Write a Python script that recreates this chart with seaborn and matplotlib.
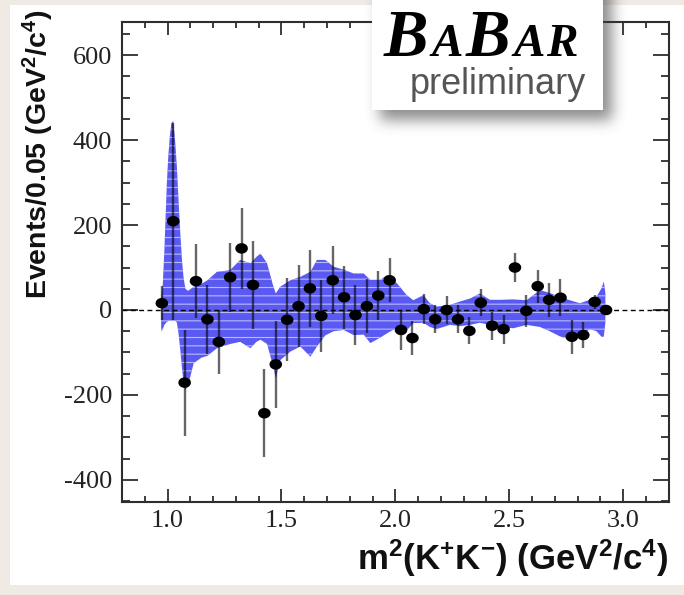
import numpy as np
import pandas as pd
import matplotlib
matplotlib.use("Agg")
import matplotlib.pyplot as plt
from matplotlib.path import Path
from matplotlib.patches import Rectangle
from matplotlib.ticker import MultipleLocator, FixedLocator, FixedFormatter
import seaborn as sns

# ---- measured yields per 0.05 GeV^2/c^4 bin ----
mass_sq = [0.975, 1.025, 1.075, 1.125, 1.175, 1.225, 1.275, 1.325, 1.375, 1.425,
           1.475, 1.525, 1.575, 1.625, 1.675, 1.725, 1.775, 1.825, 1.875, 1.925,
           1.975, 2.025, 2.075, 2.125, 2.175, 2.225, 2.275, 2.325, 2.375, 2.425,
           2.475, 2.525, 2.575, 2.625, 2.675, 2.725, 2.775, 2.825, 2.875, 2.925]
events = [16, 209, -171, 68, -22, -75, 77, 145, 59, -243,
          -128, -23, 9, 51, -14, 70, 30, -12, 9, 34,
          70, -47, -66, 2, -22, 0, -22, -49, 17, -37,
          -45, 100, -2, 56, 24, 29, -63, -59, 19, 0]
event_err = [40, 232, 125, 88, 82, 76, 81, 95, 103, 104,
             103, 98, 96, 90, 85, 80, 74, 70, 63, 57,
             52, 46, 40, 35, 33, 32, 33, 32, 32, 33,
             34, 35, 37, 39, 40, 43, 40, 30, 16, 8]

# ---- model uncertainty band ----
band_x = [0.972, 0.979, 0.986, 0.997, 1.003, 1.010, 1.017, 1.025, 1.033, 1.041,
          1.048, 1.056, 1.063, 1.070, 1.078, 1.090, 1.115, 1.150, 1.175, 1.217,
          1.250, 1.275, 1.319, 1.364, 1.390, 1.408, 1.437, 1.462, 1.475, 1.495,
          1.539, 1.583, 1.627, 1.656, 1.692, 1.729, 1.773, 1.817, 1.861, 1.890,
          1.934, 1.963, 2.007, 2.050, 2.079, 2.123, 2.152, 2.181, 2.240, 2.284,
          2.328, 2.371, 2.415, 2.459, 2.518, 2.576, 2.635, 2.678, 2.722, 2.766,
          2.810, 2.854, 2.883, 2.905, 2.915, 2.922]
band_hi = [30, 60, 140, 300, 360, 410, 440, 445, 400, 337,
           260, 180, 120, 78, 50, 45, 55, 62, 70, 90,
           92, 94, 118, 110, 125, 133, 110, 60, 39, 55,
           70, 78, 90, 118, 118, 102, 95, 86, 86, 71,
           71, 82, 63, 35, 23, 35, 16, 8, 12, 20,
           27, 39, 24, 24, 25, 23, 47, 40, 31, 23,
           16, 24, 31, 51, 67, 40]
band_lo = [-50, -45, -35, -28, -26, -25, -25, -25, -25, -30,
           -55, -95, -135, -170, -188, -178, -125, -112, -108, -90,
           -84, -80, -75, -90, -75, -70, -80, -130, -160, -118,
           -98, -86, -110, -86, -60, -50, -47, -59, -58, -78,
           -65, -55, -42, -48, -31, -30, -40, -45, -35, -38,
           -35, -30, -35, -40, -43, -35, -40, -50, -62, -70,
           -62, -45, -50, -63, -63, -30]

x_ticks = [1.0, 1.5, 2.0, 2.5, 3.0]
x_tick_labels = ["1.0", "1.5", "2.0", "2.5", "3.0"]
y_ticks = [-400, -200, 0, 200, 400, 600]
y_tick_labels = ["-400", "-200", "0", "200", "400", "600"]

df = pd.DataFrame({"m2": mass_sq, "events": events, "err": event_err})

sns.set_theme(style="ticks")
plt.rcParams.update({
    "font.family": ["Liberation Sans", "DejaVu Sans"],
    "mathtext.fontset": "custom",
    "mathtext.rm": "Liberation Sans:bold",
    "mathtext.it": "Liberation Sans:bold:italic",
    "mathtext.bf": "Liberation Sans:bold",
    "hatch.linewidth": 0.8,
})

W, H = 684, 595
fig = plt.figure(figsize=(W / 100, H / 100), dpi=100)
fig.patch.set_facecolor("#efebe4")

# white page behind the plot
fig.patches.append(Rectangle((10 / W, 10 / H), 674 / W, 580 / H,
                             transform=fig.transFigure, facecolor="white",
                             edgecolor="none", zorder=0))

ax = fig.add_axes([122 / W, 93 / H, 546.7 / W, 480 / H])
ax.set_zorder(1)
ax.set_facecolor("white")

# uncertainty band with a light horizontal line texture
ax.fill_between(band_x, band_lo, band_hi, facecolor="#5a5af2",
                edgecolor="#b9b9ff", hatch="--", linewidth=0, zorder=1)

ax.axhline(0, color="black", lw=1.0, ls=(0, (3.5, 2.5)), zorder=2)

ax.errorbar(df["m2"], df["events"], yerr=df["err"], fmt="none",
            ecolor="black", alpha=0.6, elinewidth=1.7, capsize=0, zorder=3)

# slightly wide elliptical dots
t = np.linspace(0, 2 * np.pi, 60)
dot = Path(np.column_stack([1.2 * np.cos(t), np.sin(t)]), closed=True)
sns.scatterplot(data=df, x="m2", y="events", marker=dot, s=82, color="black",
                edgecolor="none", linewidth=0, ax=ax, zorder=4, legend=False)

ax.set_xlim(0.8, 3.2)
ax.set_ylim(-452, 678)

ax.xaxis.set_major_locator(FixedLocator(x_ticks))
ax.xaxis.set_major_formatter(FixedFormatter(x_tick_labels))
ax.yaxis.set_major_locator(FixedLocator(y_ticks))
ax.yaxis.set_major_formatter(FixedFormatter(y_tick_labels))
ax.xaxis.set_minor_locator(MultipleLocator(0.1))
ax.yaxis.set_minor_locator(MultipleLocator(50))

frame_col = "#2e2e2e"
for sp in ax.spines.values():
    sp.set_linewidth(1.5)
    sp.set_color(frame_col)
ax.tick_params(which="both", direction="in", top=True, right=True,
               color=frame_col, width=1.3)
ax.tick_params(axis="x", which="major", length=9.5, pad=6)
ax.tick_params(axis="x", which="minor", length=4.6)
ax.tick_params(axis="y", which="major", length=11.5, pad=7)
ax.tick_params(axis="y", which="minor", length=5.8)
for lab in ax.get_xticklabels() + ax.get_yticklabels():
    lab.set_fontfamily("Liberation Serif")
    lab.set_fontsize(19)
    lab.set_color("#222222")

ax.set_xlabel(r"m$^{2}$(K$^{+}$K$^{-}$) (GeV$^{2}$/c$^{4}$)", loc="right",
              fontsize=25, fontweight="bold", color="#111111")
ax.xaxis.set_label_coords(1.0, -0.073)
ax.set_ylabel(r"Events/0.05 (GeV$^{2}$/c$^{4}$)", loc="top",
              fontsize=20.5, fontweight="bold", color="#111111")
ax.yaxis.set_label_coords(-0.12, 1.025)

# ---- experiment badge with a soft drop shadow ----
def gauss_blur(img, sigma):
    r = int(3 * sigma)
    k = np.exp(-0.5 * (np.arange(-r, r + 1) / sigma) ** 2)
    k /= k.sum()
    img = np.apply_along_axis(lambda v: np.convolve(v, k, mode="same"), 1, img)
    img = np.apply_along_axis(lambda v: np.convolve(v, k, mode="same"), 0, img)
    return img

pad = 40
mask = np.zeros((H + pad, W))
mask[: pad + 120, 380:612] = 1.0
shadow = gauss_blur(mask, 7)[pad:, :]
rgba = np.zeros((H, W, 4))
rgba[..., :3] = 0.25
rgba[..., 3] = 0.6 * shadow
fig.figimage(rgba, 0, 0, origin="upper", zorder=5)

fig.patches.append(Rectangle((372 / W, 1 - 110 / H), 231 / W, 110 / H,
                             transform=fig.transFigure, facecolor="white",
                             edgecolor="none", zorder=6))

logo_kw = dict(family="Liberation Serif", weight="bold", style="italic",
               color="black", va="baseline", ha="left", zorder=7)
for ch, xp, size in [("B", 384, 48), ("A", 431, 34), ("B", 466, 48),
                     ("A", 513, 34), ("R", 546, 34)]:
    fig.text(xp / W, 1 - 56 / H, ch, fontsize=size, **logo_kw)
fig.text(410 / W, 1 - 94 / H, "preliminary", fontsize=26, family="Liberation Sans",
         color="#555555", va="baseline", ha="left", zorder=7)

fig.savefig("out.png", dpi=100, facecolor=fig.get_facecolor())
